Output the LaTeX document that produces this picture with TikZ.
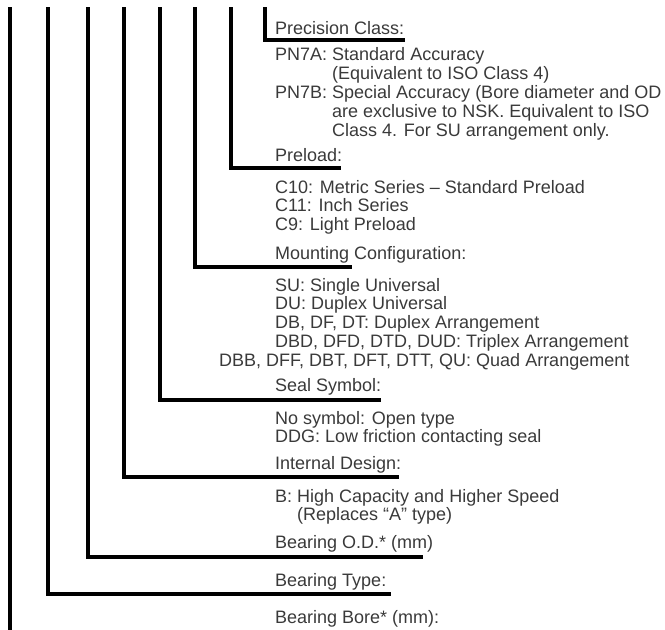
\documentclass[tikz,border=0pt]{standalone}
\usepackage{fontspec}
\setmainfont{Liberation Sans}
\definecolor{txtgray}{HTML}{3A3A3A}
\tikzset{
  lead/.style={line width=3.2pt,black},
  txt/.style={anchor=base west,inner sep=0pt,text=txtgray,font=\fontsize{18}{18.5}\selectfont}
}

\begin{document}
\begin{tikzpicture}[x=1pt,y=-1pt]
  \useasboundingbox (0,0) rectangle (665,630); %
  % texts, one node per line
  \foreach \y/\t [count=\i] in {34/{Precision Class:},
      60/{PN7A: Standard Accuracy},
      79/{\hphantom{PN7A: }(Equivalent to ISO Class 4)},
      98/{PN7B: Special Accuracy (Bore diameter and OD},
      117/{\hphantom{PN7B: }are exclusive to NSK. Equivalent to ISO},
      136/{\hphantom{PN7B: }Class 4. For SU arrangement only.},
      161/{Preload:},
      193/{C10: Metric Series – Standard Preload},
      211/{C11: Inch Series},
      230/{C9: Light Preload},
      259/{Mounting Configuration:},
      291/{SU: Single Universal},
      309/{DU: Duplex Universal},
      328/{DB, DF, DT: Duplex Arrangement},
      347/{DBD, DFD, DTD, DUD: Triplex Arrangement},
      366/{\hspace*{-56pt}DBB, DFF, DBT, DFT, DTT, QU: Quad Arrangement},
      391/{Seal Symbol:},
      424/{No symbol: Open type},
      442/{DDG: Low friction contacting seal},
      469/{Internal Design:},
      502/{B: High Capacity and Higher Speed},
      520/{\hphantom{B: }(Replaces “A” type)},
      548/{Bearing O.D.* (mm)},
      586/{Bearing Type:},
      623/{Bearing Bore* (mm):}}
    \node[txt] (l\i) at (275,\y) {\t}; %
  % leader lines
  \foreach \x/\y/\e/\n in {265/40/405/prec,231/168/341/preload,195/267/352/mount,
      160/400/381/seal,124/477/399/design,88/557/423/od,48/594/391/type} {
    \coordinate (top\n) at (\x,7);
    \coordinate (end\n) at (\e,\y);
    \draw[lead] (top\n) |- (end\n);
  }
  \coordinate (topbore) at (10,7);
  \coordinate (endbore) at (10,632);
  \draw[lead] (topbore)--(endbore); %
\end{tikzpicture}
\end{document}
